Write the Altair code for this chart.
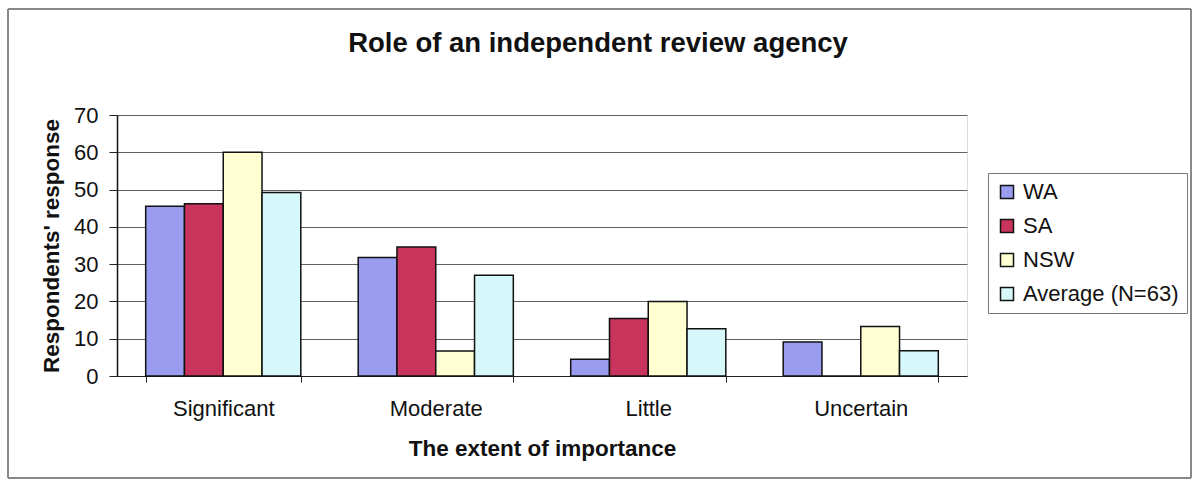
import altair as alt
import pandas as pd

categories = ["Significant", "Moderate", "Little", "Uncertain"]
series = ["WA", "SA", "NSW", "Average (N=63)"]
wa = [45.5, 31.8, 4.5, 9.1]
sa = [46.2, 34.6, 15.4, 0.0]
nsw = [60.0, 6.7, 20.0, 13.3]
avg = [49.2, 27.0, 12.7, 6.8]
colors = ["#9A9CF0", "#C8345C", "#FFFFD2", "#D6F8FA"]
y_ticks = [0, 10, 20, 30, 40, 50, 60, 70]

rows = []
for name, vals in zip(series, [wa, sa, nsw, avg]):
    for c, v in zip(categories, vals):
        rows.append({"category": c, "series": name, "value": v})
df = pd.DataFrame(rows)

FONT = "Liberation Sans"
FS = 22

bars = alt.Chart(df).mark_bar(stroke="#111111", strokeWidth=1.5).encode(
    x=alt.X(
        "category:N",
        sort=categories,
        scale=alt.Scale(paddingInner=0.27, paddingOuter=0.135),
        axis=alt.Axis(
            title="The extent of importance",
            labelAngle=0,
            tickBand="extent",
            labelFontSize=FS,
            labelFont=FONT,
            labelColor="#111111",
            labelPadding=16,
            titleFont=FONT,
            titleFontSize=22.5,
            titleFontWeight="bold",
            titleColor="#111111",
            titlePadding=18,
            domainColor="#222222",
            tickColor="#222222",
            tickSize=6,
            grid=False,
        ),
    ),
    xOffset=alt.XOffset("series:N", sort=series, scale=alt.Scale(paddingInner=0, paddingOuter=0)),
    y=alt.Y(
        "value:Q",
        scale=alt.Scale(domain=[0, 70], nice=False),
        axis=alt.Axis(
            title="Respondents' response",
            values=y_ticks,
            labelFontSize=FS,
            labelFont=FONT,
            labelColor="#111111",
            labelPadding=11,
            titleFont=FONT,
            titleFontSize=22.5,
            titleFontWeight="bold",
            titleColor="#111111",
            titlePadding=10,
            domainColor="#111111",
            domainWidth=1.5,
            tickColor="#222222",
            tickSize=8,
            grid=True,
            gridColor="#5E6262",
            gridWidth=1,
        ),
    ),
    color=alt.Color(
        "series:N",
        sort=series,
        scale=alt.Scale(domain=series, range=colors),
        legend=alt.Legend(
            title=None,
            orient="none",
            legendX=871,
            legendY=58,
            symbolType="square",
            symbolSize=169,
            symbolStrokeColor="#111111",
            symbolStrokeWidth=1.5,
            labelFont=FONT,
            labelFontSize=22,
            labelLimit=300,
            labelColor="#111111",
            labelOffset=5,
            rowPadding=12,
            padding=8,
            strokeColor="#777777",
            fillColor="#FFFFFF",
        ),
    ),
)

frame = alt.Chart(df).mark_rect(fill=None, stroke="#888888", strokeWidth=1).encode(
    x=alt.value(-109), x2=alt.value(1074), y=alt.value(-106), y2=alt.value(363)
)

chart = alt.layer(frame, bars).properties(
    width=850,
    height=261,
    padding={"left": 117, "top": 115, "right": 232, "bottom": 110},
    autosize=alt.AutoSizeParams(type="none"),
    title=alt.TitleParams(
        "Role of an independent review agency",
        font=FONT,
        fontSize=27.5,
        fontWeight="bold",
        color="#111111",
        anchor="middle",
        dx=56,
        offset=-49,
    ),
).configure_view(fill="#C6C9C9", stroke="#666666", strokeWidth=1).configure(background="#FFFFFF")

chart.save("out.html", embed_options={"renderer": "svg", "actions": False})
